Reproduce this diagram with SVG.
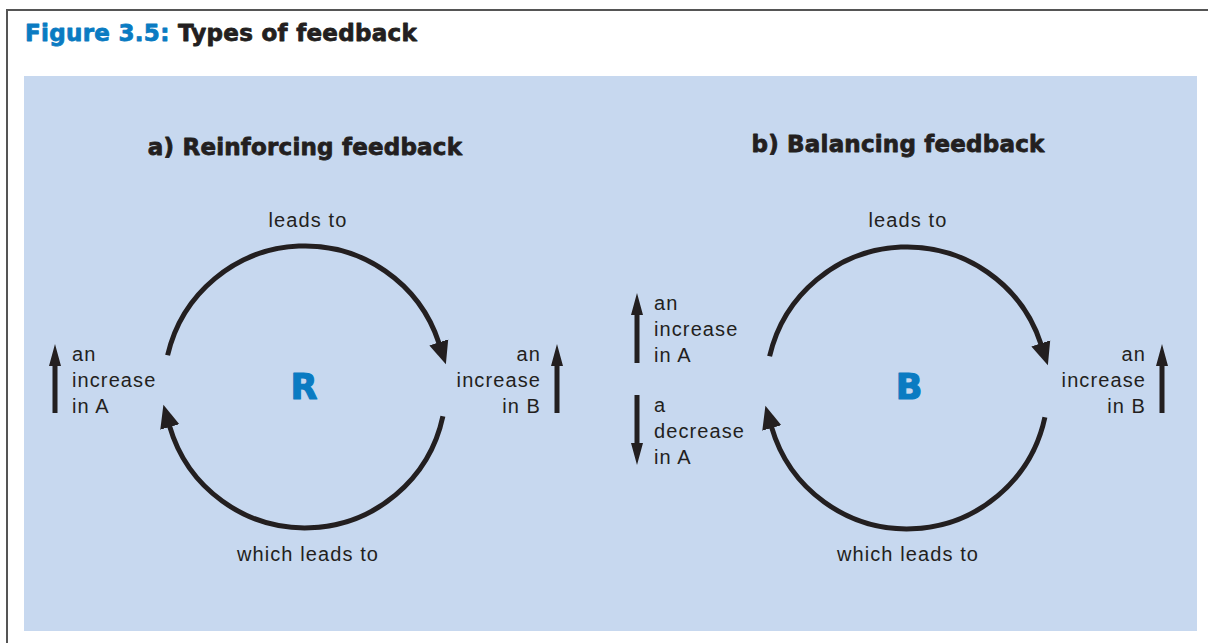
<svg xmlns="http://www.w3.org/2000/svg" width="1208" height="643" viewBox="0 0 1208 643">
  <style>
    .bg { fill: #ffffff; }
    .frame { fill: none; stroke: #555555; stroke-width: 2; }
    .panel { fill: #c7d8ef; }
    .title { font-family: "DejaVu Sans", "Liberation Sans", Arial, sans-serif; font-weight: bold; font-size: 23px; letter-spacing: 0.3px; stroke-width: 0.8px; stroke-linejoin: round; }
    .blue { fill: #0a7bc2; stroke: #0a7bc2; }
    .dark { fill: #231f20; stroke: #231f20; }
    .heading { font-family: "DejaVu Sans", "Liberation Sans", Arial, sans-serif; font-weight: bold; font-size: 23px; letter-spacing: 0.2px; fill: #231f20; stroke: #231f20; stroke-width: 0.8px; stroke-linejoin: round; text-anchor: middle; }
    .lbl { font-family: "Liberation Sans", Arial, Helvetica, sans-serif; font-size: 20px; letter-spacing: 1.1px; fill: #231f20; }
    .mid { text-anchor: middle; }
    .end { text-anchor: end; }
    .big { font-family: "DejaVu Sans", "Liberation Sans", Arial, sans-serif; font-weight: bold; font-size: 35px; fill: #0a7bc2; stroke: #0a7bc2; stroke-width: 1.2px; stroke-linejoin: round; text-anchor: middle; }
    .arc { fill: none; stroke: #231f20; stroke-width: 5; marker-end: url(#ah); }
    .varrow { fill: #231f20; }
  </style>
  <defs>
    <marker id="ah" markerUnits="userSpaceOnUse" markerWidth="24" markerHeight="22" viewBox="-1 -10 23 20" refX="0" refY="0" orient="auto">
      <path d="M-1,-9.5 L21,0 L-1,9.5 Z" fill="#231f20"/>
    </marker>
  </defs>

  <rect class="bg" x="0" y="0" width="1208" height="643"/>
  <path class="frame" d="M7,643 V10 H1208"/>

  <g id="title">
    <text class="title" x="25" y="41"><tspan class="blue">Figure 3.5:</tspan><tspan class="dark"> Types of feedback</tspan></text>
  </g>

  <rect class="panel" x="24" y="76" width="1173" height="555"/>

  <g id="heading-a"><text class="heading" x="305" y="155">a) Reinforcing feedback</text></g>
  <g id="heading-b"><text class="heading" x="898" y="152">b) Balancing feedback</text></g>

  <g id="connectors">
    <path class="arc" d="M167.6,355.3 A141,141 0 0 1 439.1,343.4"/>
    <path class="arc" d="M442.9,416.3 A141,141 0 0 1 169.5,425.9"/>
    <path class="arc" d="M769.6,356.3 A141,141 0 0 1 1041.1,344.4"/>
    <path class="arc" d="M1044.9,417.3 A141,141 0 0 1 771.5,426.9"/>
  </g>

  <g id="loop-R">
    <text class="big" x="304" y="399">R</text>
    <text class="lbl mid" x="308" y="227">leads to</text>
    <text class="lbl mid" x="308" y="561">which leads to</text>
  </g>

  <g id="loop-B">
    <text class="big" x="909" y="399">B</text>
    <text class="lbl mid" x="908" y="227">leads to</text>
    <text class="lbl mid" x="908" y="561">which leads to</text>
  </g>

  <g id="node-a-increase-A">
    <path class="varrow" d="M52.5,413 V366 H49 L55,344 L61,366 H57.5 V413 Z"/>
    <text class="lbl" x="72" y="361">an</text>
    <text class="lbl" x="72" y="387">increase</text>
    <text class="lbl" x="72" y="413">in A</text>
  </g>

  <g id="node-a-increase-B">
    <path class="varrow" d="M554.5,413 V366 H551 L557,344 L563,366 H559.5 V413 Z"/>
    <text class="lbl end" x="541" y="361">an</text>
    <text class="lbl end" x="541" y="387">increase</text>
    <text class="lbl end" x="541" y="413">in B</text>
  </g>

  <g id="node-b-increase-A">
    <path class="varrow" d="M634.5,363 V315 H631 L637,293 L643,315 H639.5 V363 Z"/>
    <text class="lbl" x="654" y="310">an</text>
    <text class="lbl" x="654" y="336">increase</text>
    <text class="lbl" x="654" y="362">in A</text>
  </g>

  <g id="node-b-decrease-A">
    <path class="varrow" d="M634.5,395 V443 H631 L637,465 L643,443 H639.5 V395 Z"/>
    <text class="lbl" x="654" y="412">a</text>
    <text class="lbl" x="654" y="438">decrease</text>
    <text class="lbl" x="654" y="464">in A</text>
  </g>

  <g id="node-b-increase-B">
    <path class="varrow" d="M1159.5,413 V366 H1156 L1162,344 L1168,366 H1164.5 V413 Z"/>
    <text class="lbl end" x="1146" y="361">an</text>
    <text class="lbl end" x="1146" y="387">increase</text>
    <text class="lbl end" x="1146" y="413">in B</text>
  </g>
</svg>
